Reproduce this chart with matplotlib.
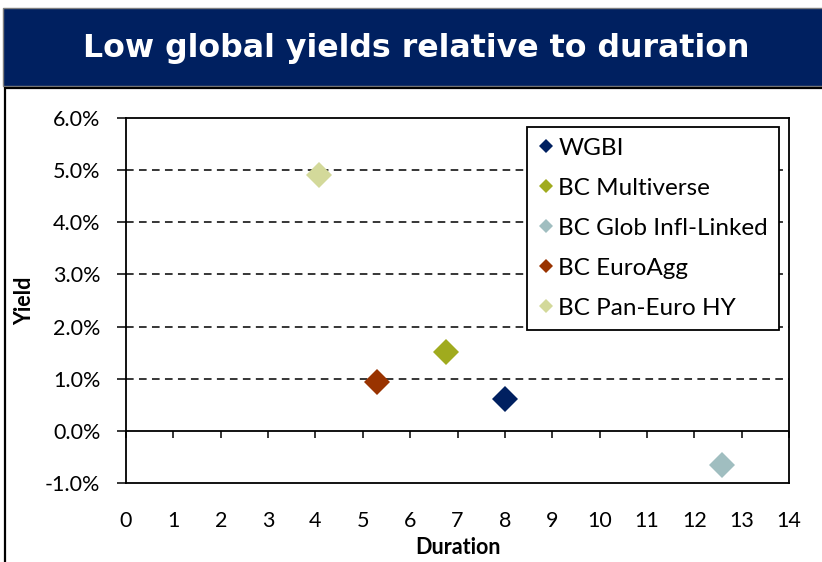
import matplotlib
matplotlib.use("Agg")
import matplotlib.pyplot as plt
from matplotlib.patches import Rectangle
from matplotlib.ticker import FuncFormatter

# ---- data ----
series = ["WGBI", "BC Multiverse", "BC Glob Infl-Linked", "BC EuroAgg", "BC Pan-Euro HY"]
duration = [8.0, 6.75, 12.58, 5.31, 4.07]
yield_pct = [0.61, 1.51, -0.65, 0.94, 4.91]
colors = ["#002060", "#A0AB1E", "#A0BEC0", "#993300", "#D3D99A"]
title = "Low global yields relative to duration"
x_ticks = list(range(0, 15))
y_ticks = [-1, 0, 1, 2, 3, 4, 5, 6]

W, H = 822, 562
fig = plt.figure(figsize=(W / 100, H / 100), dpi=100)

def fx(px):
    return px / W

def fy(py):
    return 1 - py / H

# title band
fig.patches.append(Rectangle((fx(3), fy(86)), fx(830), 78 / H, transform=fig.transFigure,
                             facecolor="#002060", edgecolor="#7f7f7f", linewidth=1.0, zorder=0))
fig.text(fx(416), fy(57), title, color="white", fontsize=22.8, fontweight="bold",
         family="DejaVu Sans", ha="center", va="baseline")
# chart box border
fig.patches.append(Rectangle((fx(5), fy(600)), fx(830), (600 - 88) / H, transform=fig.transFigure,
                             facecolor="none", edgecolor="black", linewidth=1.6, zorder=0))

left, right, top, bottom = 126, 789, 118, 483
ax = fig.add_axes([fx(left), fy(bottom), fx(right - left), (bottom - top) / H])

tick_font = "Lato"
for name, x, y, c in zip(series, duration, yield_pct, colors):
    ax.plot([x], [y], linestyle="none", marker="D", markersize=13, color=c,
            markeredgewidth=0, label=name, zorder=5)

ax.set_xlim(0, 14)
ax.set_ylim(-1, 6)
ax.set_xticks(x_ticks)
ax.set_yticks(y_ticks)
ax.yaxis.set_major_formatter(FuncFormatter(lambda v, p: f"{v:.1f}%"))

for g in [1, 2, 3, 4, 5]:
    ax.axhline(g, color="black", linewidth=1.1, linestyle=(0, (5, 3.5)), zorder=1)
ax.axhline(0, color="black", linewidth=1.3, zorder=2)

for s in ax.spines.values():
    s.set_linewidth(1.3)
    s.set_color("black")

ax.tick_params(axis="y", direction="out", length=6.5, width=1.1, pad=12, labelsize=15.5)
ax.tick_params(axis="x", length=0, pad=20, labelsize=15.5)
for lbl in ax.get_xticklabels() + ax.get_yticklabels():
    lbl.set_family(tick_font)

sec = ax.secondary_xaxis(1 / 7)
sec.set_xticks(x_ticks)
sec.tick_params(axis="x", direction="out", length=5, width=1.1, labelbottom=False, labeltop=False)
sec.spines["bottom"].set_visible(False)
sec.spines["top"].set_visible(False)

ax.set_ylabel("Yield", fontsize=15.5, fontweight="bold", family="Lato")
ax.yaxis.set_label_coords((25 - left) / (right - left), 0.5)
ax.set_xlabel("Duration", fontsize=15.5, fontweight="bold", family="Lato")
ax.xaxis.set_label_coords(0.5, -(547 - bottom) / (bottom - top))
ax.xaxis.label.set_va("center")
ax.yaxis.label.set_va("center")

leg = ax.legend(loc="upper right", bbox_to_anchor=((779 - left) / (right - left), (bottom - 127) / (bottom - top)),
                frameon=True, fancybox=False, framealpha=1, edgecolor="black",
                prop={"family": tick_font, "size": 17.5}, markerscale=0.55,
                handlelength=0.7, handletextpad=0.15, labelspacing=0.78, borderpad=0.45,
                borderaxespad=0)
leg.get_frame().set_linewidth(1.3)
leg.set_zorder(10)

fig.savefig("out.png", dpi=100)
